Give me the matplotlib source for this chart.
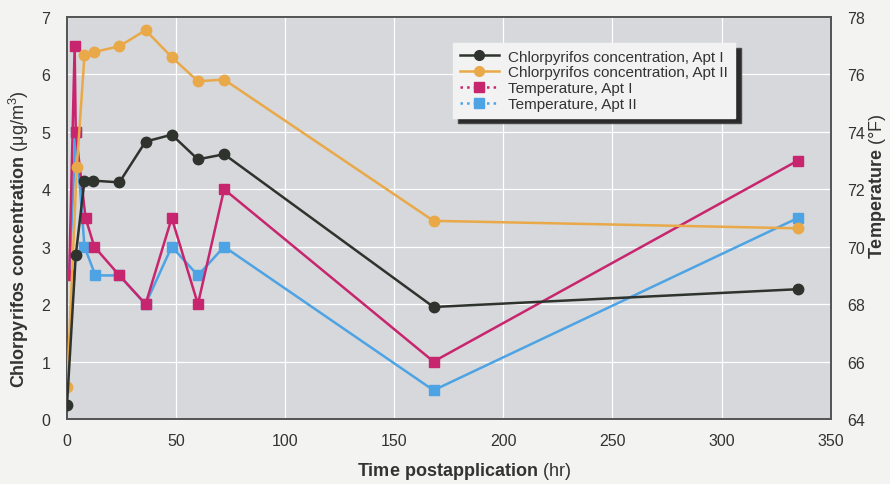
import matplotlib
matplotlib.use("Agg")
import matplotlib.pyplot as plt
from matplotlib.lines import Line2D

plt.rcParams['font.family'] = ['Liberation Sans', 'DejaVu Sans']
plt.rcParams['mathtext.fontset'] = 'custom'
plt.rcParams['mathtext.rm'] = 'Liberation Sans'
plt.rcParams['mathtext.bf'] = 'Liberation Sans:bold'

# --- data ---
t_conc1 = [0, 4, 8, 12, 24, 36, 48, 60, 72, 168, 335]
conc_apt1 = [0.25, 2.85, 4.15, 4.15, 4.12, 4.83, 4.95, 4.52, 4.61, 1.95, 2.26]
t_conc2 = [0, 4.5, 8, 12.5, 24, 36, 48, 60, 72, 168, 335]
conc_apt2 = [0.55, 4.38, 6.33, 6.39, 6.49, 6.77, 6.30, 5.88, 5.91, 3.45, 3.32]

t_temp1 = [1, 3.5, 4, 8.5, 12.5, 24, 36, 48, 60, 72, 168, 335]
temp_apt1 = [69, 77, 74, 71, 70, 69, 68, 71, 68, 72, 66, 73]
t_temp2 = [1, 4, 8, 13, 24, 36, 48, 60, 72, 168, 335]
temp_apt2 = [69, 74, 70, 69, 69, 68, 70, 69, 70, 65, 71]

labels = ["Chlorpyrifos concentration, Apt I", "Chlorpyrifos concentration, Apt II",
          "Temperature, Apt I", "Temperature, Apt II"]

C_BLACK = "#2e332e"
C_ORANGE = "#e9a948"
C_MAGENTA = "#c8256f"
C_BLUE = "#4ea3e4"
TXT = "#333333"

fig = plt.figure(figsize=(8.9, 4.85), dpi=100)
fig.patch.set_facecolor("#f3f3f1")
ax = fig.add_axes([0.0753, 0.134, 0.858, 0.829])
ax.set_facecolor("#d6d8db")
ax2 = ax.twinx()

ax.set_xlim(0, 350)
ax.set_ylim(0, 7)
ax2.set_ylim(64, 78)
ax.set_xticks(range(0, 351, 50))
ax.set_yticks(range(0, 8))
ax2.set_yticks(range(64, 79, 2))
ax.grid(True, color="white", linewidth=0.9)
ax.set_axisbelow(True)

for a in (ax, ax2):
    a.tick_params(length=0, labelsize=11.5, labelcolor=TXT)
    for s in a.spines.values():
        s.set_color("#555555")
        s.set_linewidth(1.3)
ax.tick_params(axis='x', pad=10)
ax.tick_params(axis='y', pad=12)
ax2.tick_params(axis='y', pad=12)

lw = 1.8
ax2.plot(t_temp2, temp_apt2, color=C_BLUE, lw=lw, marker='s', ms=7.5, zorder=3)
ax2.plot(t_temp1, temp_apt1, color=C_MAGENTA, lw=lw, marker='s', ms=7.5, zorder=4)
ax2.plot(t_conc2, [64 + 2 * v for v in conc_apt2], color=C_ORANGE, lw=lw, marker='o', ms=7.5, zorder=5)
ax2.plot(t_conc1, [64 + 2 * v for v in conc_apt1], color=C_BLACK, lw=lw, marker='o', ms=7.5, zorder=6)

ax.set_xlabel(r"$\mathbf{Time\ postapplication}$ (hr)", fontsize=13, color=TXT)
ax.set_ylabel(r"$\mathbf{Chlorpyrifos\ concentration}$ (μg/m$^3$)", fontsize=13, color=TXT)
ax2.set_ylabel(r"$\mathbf{Temperature}$ (°F)", fontsize=13, color=TXT)
ax.yaxis.set_label_coords(-0.047, 0.45)
ax2.yaxis.set_label_coords(1.048, 0.58)
ax.xaxis.set_label_coords(0.52, -0.103)

handles = [
    Line2D([], [], color=C_BLACK, lw=lw, marker='o', ms=7),
    Line2D([], [], color=C_ORANGE, lw=lw, marker='o', ms=7),
    Line2D([], [], color=C_MAGENTA, lw=lw, ls=':', marker='s', ms=7),
    Line2D([], [], color=C_BLUE, lw=lw, ls=':', marker='s', ms=7),
]
leg = ax2.legend(handles, labels, loc='upper left', bbox_to_anchor=(0.495, 0.955),
                 fontsize=11, frameon=True, fancybox=False, handlelength=2.6,
                 labelspacing=0.12, borderpad=0.45, handletextpad=0.6,
                 shadow={'ox': 4, 'oy': -4, 'facecolor': '#2a2a2a', 'alpha': 1})
leg.get_frame().set_facecolor("#f2f2f2")
leg.get_frame().set_edgecolor("#f2f2f2")
leg.get_frame().set_alpha(1)
for t in leg.get_texts():
    t.set_color(TXT)

fig.savefig("out.png", dpi=100, facecolor=fig.get_facecolor())
